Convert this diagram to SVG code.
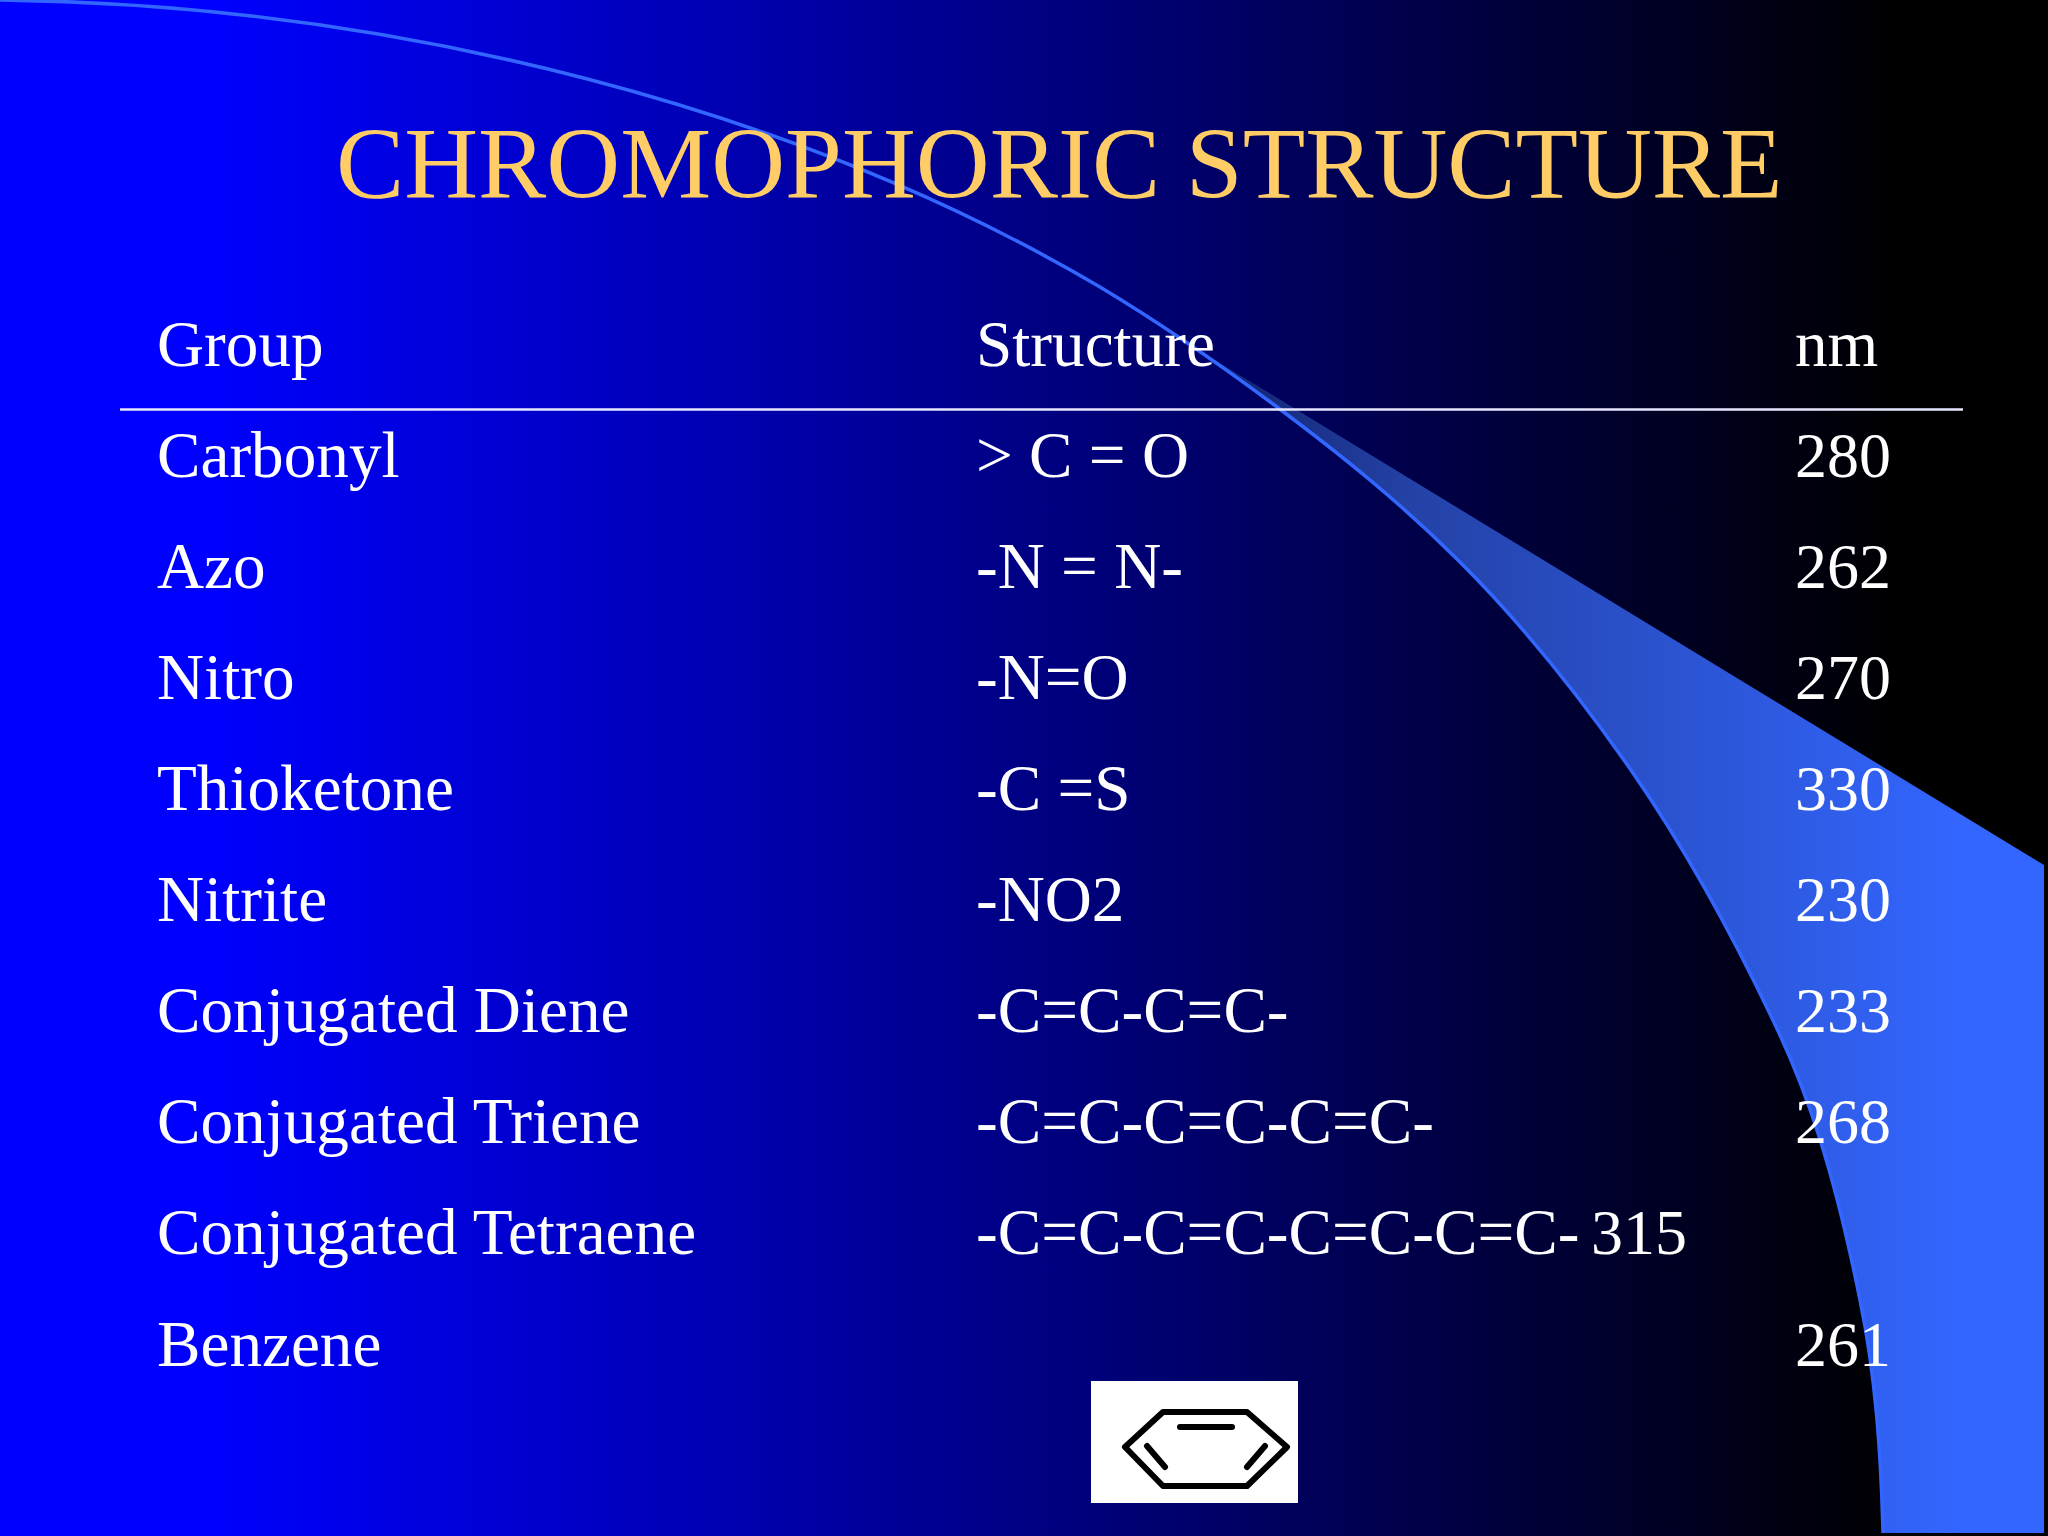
<svg xmlns="http://www.w3.org/2000/svg" width="2048" height="1536" viewBox="0 0 2048 1536">
<style>
text{font-family:"Liberation Serif","Times New Roman",serif;fill:#fff;font-size:65.200px}
text.n{font-size:64px}
.title{fill:#ffcc66;font-size:102.300px}
.ben{fill:none;stroke:#000;stroke-width:6;stroke-linecap:round;stroke-linejoin:round}
</style>
<defs>
<linearGradient id="bg" x1="0" y1="0" x2="2048" y2="0" gradientUnits="userSpaceOnUse"><stop offset="0" stop-color="#0000ff"/><stop offset="0.1" stop-color="#0000ff"/><stop offset="0.93" stop-color="#000000"/><stop offset="1" stop-color="#000000"/></linearGradient>
<linearGradient id="sw" x1="1200" y1="0" x2="2044" y2="0" gradientUnits="userSpaceOnUse"><stop offset="0" stop-color="#10206a"/><stop offset="0.25" stop-color="#2442a6"/><stop offset="0.9" stop-color="#3366ff"/><stop offset="1" stop-color="#3366ff"/></linearGradient>
</defs>
<rect id="background" width="2048" height="1536" fill="url(#bg)"/>
<g id="swoosh">
<path d="M1100 287C1160 323 1221 365 1281 410C1341 455 1400 502 1460 562C1518 620 1575 689 1633 773C1682 844 1730 928 1779 1033C1806 1091 1833 1165 1860 1300C1876 1378 1881 1455 1883 1533H2044V865L1210 357Z" fill="url(#sw)"/>
<path d="M0 0C400 5 800 110 1100 287C1160 323 1221 365 1281 410C1341 455 1400 502 1460 562C1518 620 1575 689 1633 773C1682 844 1730 928 1779 1033C1806 1091 1833 1165 1860 1300C1876 1378 1881 1455 1883 1533" fill="none" stroke="#3366ff" stroke-width="3.500"/>
</g>
<text class="title" x="336" y="197.500">CHROMOPHORIC STRUCTURE</text>
<g id="table">
<line x1="120" y1="409.500" x2="1963" y2="409.500" stroke="#e6e6ff" stroke-width="2.500"/>
<text x="157" y="366">Group</text><text x="976" y="366">Structure</text><text x="1795" y="366">nm</text>
<text x="157" y="477">Carbonyl</text><text x="976" y="477">&gt; C = O</text><text class="n" x="1795" y="477">280</text>
<text x="157" y="588">Azo</text><text x="976" y="588">-N = N-</text><text class="n" x="1795" y="588">262</text>
<text x="157" y="699">Nitro</text><text x="976" y="699">-N=O</text><text class="n" x="1795" y="699">270</text>
<text x="157" y="810">Thioketone</text><text x="976" y="810">-C =S</text><text class="n" x="1795" y="810">330</text>
<text x="157" y="921">Nitrite</text><text x="976" y="921">-NO2</text><text class="n" x="1795" y="921">230</text>
<text x="157" y="1032">Conjugated Diene</text><text x="976" y="1032">-C=C-C=C-</text><text class="n" x="1795" y="1032">233</text>
<text x="157" y="1143">Conjugated Triene</text><text x="976" y="1143">-C=C-C=C-C=C-</text><text class="n" x="1795" y="1143">268</text>
<text x="157" y="1254">Conjugated Tetraene</text><text x="976" y="1254">-C=C-C=C-C=C-C=C-</text><text class="n" x="1591" y="1254">315</text>
<text x="157" y="1365.500">Benzene</text><text class="n" x="1795" y="1365.500">261</text>
</g>
<g id="benzene">
<rect x="1091" y="1381" width="207" height="122" fill="#fff"/>
<path class="ben" d="M1163 1412H1247L1287 1447L1247 1486H1163L1125 1447Z"/>
<path class="ben" d="M1180 1427H1232M1147 1446L1165 1467M1265 1446L1247 1467"/>
</g>
</svg>
